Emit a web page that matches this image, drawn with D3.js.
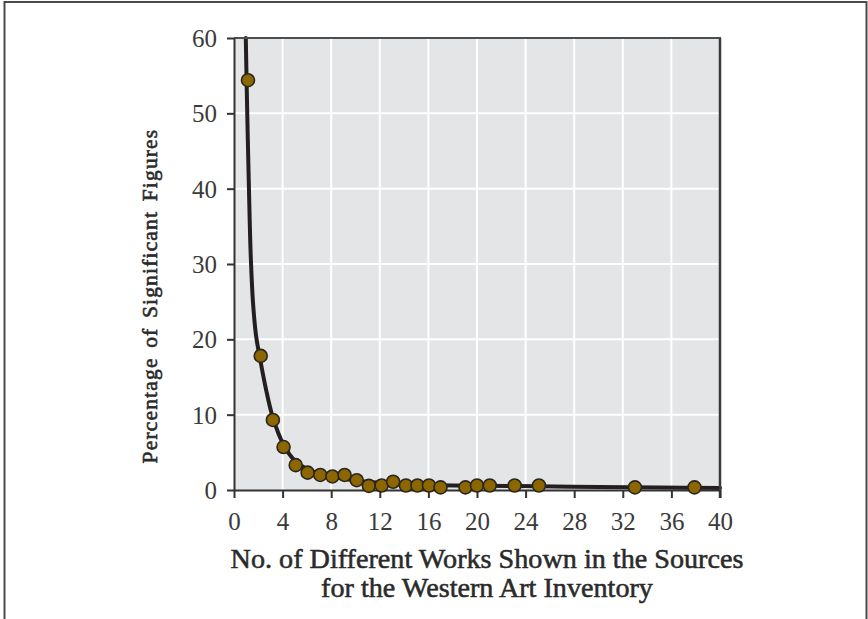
<!DOCTYPE html>
<html>
<head>
<meta charset="utf-8">
<script src="https://cdn.jsdelivr.net/npm/d3@7"></script>
<style>
  body { margin: 0; background: #fff; }
  svg { display: block; }
</style>
</head>
<body>
<div id="chart"></div>
<script>
// observed values (x = no. of works, y = % of significant figures)
const worksCount = [1.15, 2.2, 3.2, 4.08, 5.08, 6.06, 7.1, 8.1, 9.1, 10.1, 11.1, 12.15, 13.1, 14.15, 15.1, 16.05, 17.0, 19.05, 20.0, 21.05, 23.1, 25.1, 33.0, 37.9];
const pctFigures = [54.4, 17.8, 9.3, 5.7, 3.3, 2.3, 2.0, 1.8, 2.0, 1.3, 0.55, 0.6, 1.1, 0.6, 0.6, 0.6, 0.35, 0.35, 0.6, 0.6, 0.6, 0.6, 0.35, 0.35];

// fitted trend line
const curveX = [0.97, 1.09, 1.23, 1.38, 1.58, 1.83, 2.17, 2.63, 3.2, 4.08, 5.0, 6.0, 7.0, 8.0, 10.0, 12.0, 16.0, 20.0, 25.0, 30.0, 35.0, 40.0];
const curveY = [60, 50, 40, 31, 24.5, 20.3, 17.2, 13.4, 9.6, 6.0, 3.9, 2.8, 2.2, 1.8, 1.25, 0.95, 0.65, 0.55, 0.5, 0.4, 0.32, 0.28];

const xTicks = [0, 4, 8, 12, 16, 20, 24, 28, 32, 36, 40];
const yTicks = [0, 10, 20, 30, 40, 50, 60];

const xTitle = ["No. of Different Works Shown in the Sources", "for the Western Art Inventory"];
const yTitle = "Percentage of Significant Figures";

const W = 868, H = 619;
const plot = {left: 234, right: 720, top: 38, bottom: 490};

const svg = d3.select("#chart").append("svg")
  .attr("width", W).attr("height", H);

// outer frame
svg.append("rect")
  .attr("x", 4.5).attr("y", 2).attr("width", 862).attr("height", 640)
  .attr("fill", "none").attr("stroke", "#4a4a4a").attr("stroke-width", 2);

const x = d3.scaleLinear().domain([0, 40]).range([plot.left, plot.right]);
const y = d3.scaleLinear().domain([0, 60]).range([plot.bottom, plot.top]);

// plot background
svg.append("rect")
  .attr("x", plot.left).attr("y", plot.top)
  .attr("width", plot.right - plot.left).attr("height", plot.bottom - plot.top)
  .attr("fill", "#e4e5e7");

// grid
svg.append("g").selectAll("line")
  .data(xTicks.slice(1, -1))
  .join("line")
  .attr("x1", d => x(d)).attr("x2", d => x(d))
  .attr("y1", plot.top).attr("y2", plot.bottom)
  .attr("stroke", "#fff").attr("stroke-width", 2);
svg.append("g").selectAll("line")
  .data(yTicks.slice(1, -1))
  .join("line")
  .attr("x1", plot.left).attr("x2", plot.right)
  .attr("y1", d => y(d)).attr("y2", d => y(d))
  .attr("stroke", "#fff").attr("stroke-width", 2);

// trend line
const curvePts = curveX.map((cx, i) => [cx, curveY[i]]);
svg.append("path")
  .datum(curvePts)
  .attr("fill", "none")
  .attr("stroke", "#231f20")
  .attr("stroke-width", 4)
  .attr("stroke-linecap", "round")
  .attr("d", d3.line()
    .x(d => x(d[0]))
    .y(d => y(d[1]))
    .curve(d3.curveCatmullRom.alpha(0.5)));

// frame lines top / right
svg.append("line")
  .attr("x1", plot.left).attr("x2", plot.right + 1)
  .attr("y1", plot.top).attr("y2", plot.top)
  .attr("stroke", "#4d4d4d").attr("stroke-width", 2);
svg.append("line")
  .attr("x1", plot.right).attr("x2", plot.right)
  .attr("y1", plot.top).attr("y2", plot.bottom + 8)
  .attr("stroke", "#3a3a3a").attr("stroke-width", 2.5);

// axes
const yAxis = svg.append("g")
  .attr("transform", `translate(${plot.left},0)`)
  .call(d3.axisLeft(y).tickValues(yTicks).tickSize(7).tickPadding(10).tickSizeOuter(0));
const xAxis = svg.append("g")
  .attr("transform", `translate(0,${plot.bottom})`)
  .call(d3.axisBottom(x).tickValues(xTicks).tickSize(8).tickPadding(14).tickSizeOuter(0));

[xAxis, yAxis].forEach(g => {
  g.attr("font-size", null).attr("font-family", null);
  g.select(".domain").attr("stroke", "#333").attr("stroke-width", 2);
  g.selectAll(".tick line").attr("stroke", "#333").attr("stroke-width", 2);
  g.selectAll(".tick text")
    .attr("fill", "#3a3a3a")
    .attr("font-family", "'Liberation Serif', 'DejaVu Serif', serif")
    .attr("font-size", 25);
});
yAxis.selectAll(".tick text").attr("dy", "0.34em");

// data points
svg.append("g").selectAll("circle")
  .data(worksCount.map((w, i) => [w, pctFigures[i]]))
  .join("circle")
  .attr("cx", d => x(d[0]))
  .attr("cy", d => y(d[1]))
  .attr("r", 6.5)
  .attr("fill", "#8c6700")
  .attr("stroke", "#2b2520")
  .attr("stroke-width", 1.6);

// axis titles
const titleFont = "'Liberation Serif', 'DejaVu Serif', serif";
const xt = svg.append("g")
  .attr("fill", "#2a2a2a")
  .attr("stroke", "#2a2a2a")
  .attr("stroke-width", 0.55)
  .style("font-family", titleFont)
  .style("font-size", "20px");
const t1 = xt.append("text")
  .attr("x", 487).attr("y", 568)
  .attr("text-anchor", "middle")
  .text(xTitle[0]);
// scale the font so the first line spans the same width as in the source
const fs = 20 * 513 / t1.node().getComputedTextLength();
xt.style("font-size", fs + "px");
xt.append("text")
  .attr("x", 487).attr("y", 597)
  .attr("text-anchor", "middle")
  .text(xTitle[1]);

const ty = svg.append("text")
  .attr("transform", "translate(157,296) rotate(-90)")
  .attr("text-anchor", "middle")
  .attr("fill", "#2a2a2a")
  .attr("stroke", "#2a2a2a")
  .attr("stroke-width", 0.6)
  .style("font-family", titleFont).style("font-size", "21px")
  .style("letter-spacing", "1.2px").style("word-spacing", "3px")
  .text(yTitle);
const tl = ty.node().getComputedTextLength();
ty.style("font-size", (21 * 336 / tl) + "px");
</script>
</body>
</html>
